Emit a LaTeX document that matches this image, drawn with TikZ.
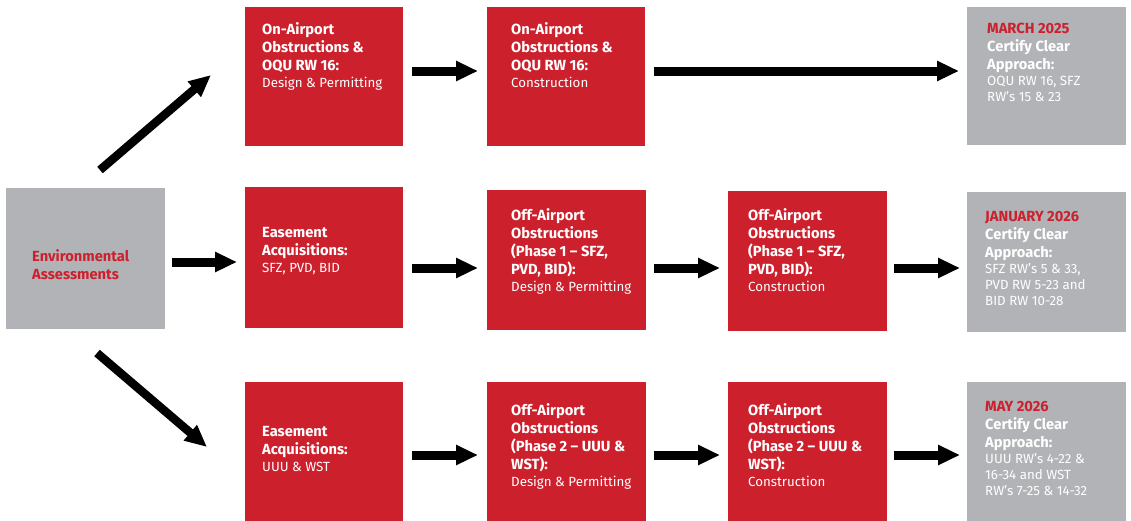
\documentclass[tikz,border=0pt]{standalone}
\usepackage{fontspec}
\setmainfont{Fira Sans}
\usetikzlibrary{arrows.meta,calc}

\definecolor{faared}{RGB}{205,32,45}
\definecolor{faagray}{RGB}{177,179,182}

% title and detail type
\newcommand{\ttl}{\fontsize{14.7}{18}\selectfont\bfseries}
\newcommand{\sbt}{\fontsize{13.3}{17}\selectfont\mdseries}

\tikzset{
  x=1pt, y=-1pt,
  redbox/.style={fill=faared, draw=none, anchor=north west, inner sep=0pt},
  graybox/.style={fill=faagray, draw=none, anchor=north west, inner sep=0pt},
  lbl/.style={anchor=base west, inner sep=0pt, text=white},
  arr/.style={line width=9pt, -{Triangle[length=22pt,width=19pt]}, black},
}

\newcommand{\boxtext}[1]{\parbox[t]{150pt}{\raggedright #1}}

\begin{document}
\begin{tikzpicture}
\useasboundingbox (0,0) rectangle (1131,520);

% boxes
\node[graybox, minimum width=159pt, minimum height=141pt] (env) at (6,188) {};
\node[redbox, minimum width=158pt, minimum height=139pt] (r1a) at (245,7) {};
\node[redbox, minimum width=158pt, minimum height=139pt] (r1b) at (487,7) {};
\node[graybox, minimum width=159pt, minimum height=138pt] (r1g) at (967,7) {};
\node[redbox, minimum width=158pt, minimum height=141pt] (r2a) at (245,187) {};
\node[redbox, minimum width=159pt, minimum height=140pt] (r2b) at (487,190) {};
\node[redbox, minimum width=159pt, minimum height=140pt] (r2c) at (728,191) {};
\node[graybox, minimum width=159pt, minimum height=140pt] (r2g) at (967,192) {};
\node[redbox, minimum width=158pt, minimum height=140pt] (r3a) at (245,382) {};
\node[redbox, minimum width=159pt, minimum height=140pt] (r3b) at (487,382) {};
\node[redbox, minimum width=159pt, minimum height=140pt] (r3c) at (728,382) {};
\node[graybox, minimum width=159pt, minimum height=140pt] (r3g) at (967,382) {};

% texts
\node[lbl, text=faared] (tenv) at (32,261) {\boxtext{\ttl Environmental\par Assessments\par}};

\node[lbl] (t1a) at (262,34) {\boxtext{\ttl On-Airport\par Obstructions \&\par OQU RW 16:\par \sbt Design \& Permitting\par}};
\node[lbl] (t1b) at (511,34) {\boxtext{\ttl On-Airport\par Obstructions \&\par OQU RW 16:\par \sbt Construction\par}};
\node[lbl] (t1g) at (987,33) {\boxtext{\ttl \textcolor{faared}{MARCH 2025}\par Certify Clear\par Approach:\par \sbt\baselineskip=16pt OQU RW 16, SFZ\par RW’s 15 \& 23\par}};

\node[lbl] (t2a) at (262,237) {\boxtext{\ttl Easement\par Acquisitions:\par \sbt SFZ, PVD, BID\par}};
\node[lbl] (t2b) at (511,220) {\boxtext{\ttl Off-Airport\par Obstructions\par (Phase 1 – SFZ,\par PVD, BID):\par \sbt Design \& Permitting\par}};
\node[lbl] (t2c) at (748,220) {\boxtext{\ttl Off-Airport\par Obstructions\par (Phase 1 – SFZ,\par PVD, BID):\par \sbt Construction\par}};
\node[lbl] (t2g) at (985,221) {\boxtext{\ttl \textcolor{faared}{JANUARY 2026}\par Certify Clear\par Approach:\par \sbt\baselineskip=16pt SFZ RW’s 5 \& 33,\par PVD RW 5-23 and\par BID RW 10-28\par}};

\node[lbl] (t3a) at (262,436) {\boxtext{\ttl Easement\par Acquisitions:\par \sbt UUU \& WST\par}};
\node[lbl] (t3b) at (511,415) {\boxtext{\ttl Off-Airport\par Obstructions\par (Phase 2 – UUU \&\par WST):\par \sbt Design \& Permitting\par}};
\node[lbl] (t3c) at (748,415) {\boxtext{\ttl Off-Airport\par Obstructions\par (Phase 2 – UUU \&\par WST):\par \sbt Construction\par}};
\node[lbl] (t3g) at (985,411) {\boxtext{\ttl \textcolor{faared}{MAY 2026}\par Certify Clear\par Approach:\par \sbt\baselineskip=16pt UUU RW’s 4-22 \&\par 16-34 and WST\par RW’s 7-25 \& 14-32\par}};

% arrow rows
\coordinate (y1) at (0,71);
\coordinate (y2) at (0,268);
\coordinate (y3) at (0,455);
\coordinate (e2) at (0,262);

\draw[arr, shorten <=9pt, shorten >=9pt] (r1a.east |- y1) -- (r1b.west |- y1);
\draw[arr, shorten <=9pt, shorten >=8pt] (r1b.east |- y1) -- (r1g.west |- y1);

\draw[arr, shorten <=7pt, shorten >=8pt] (env.east |- e2) -- (r2a.west |- e2);
\draw[arr, shorten <=9pt, shorten >=9pt] (r2a.east |- y2) -- (r2b.west |- y2);
\draw[arr, shorten <=8pt, shorten >=8pt] (r2b.east |- y2) -- (r2c.west |- y2);
\draw[arr, shorten <=7pt, shorten >=7pt] (r2c.east |- y2) -- (r2g.west |- y2);

\draw[arr, shorten <=9pt, shorten >=9pt] (r3a.east |- y3) -- (r3b.west |- y3);
\draw[arr, shorten <=8pt, shorten >=8pt] (r3b.east |- y3) -- (r3c.west |- y3);
\draw[arr, shorten <=7pt, shorten >=7pt] (r3c.east |- y3) -- (r3g.west |- y3);

% diagonal branches from the assessment box
\coordinate (up0) at (100,170);
\coordinate (up1) at (211,75);
\coordinate (dn0) at (97,353);
\coordinate (dn1) at (207,447);
\draw[arr, line width=8.5pt] (up0) -- (up1);
\draw[arr, line width=8.5pt] (dn0) -- (dn1);
\end{tikzpicture}
\end{document}
